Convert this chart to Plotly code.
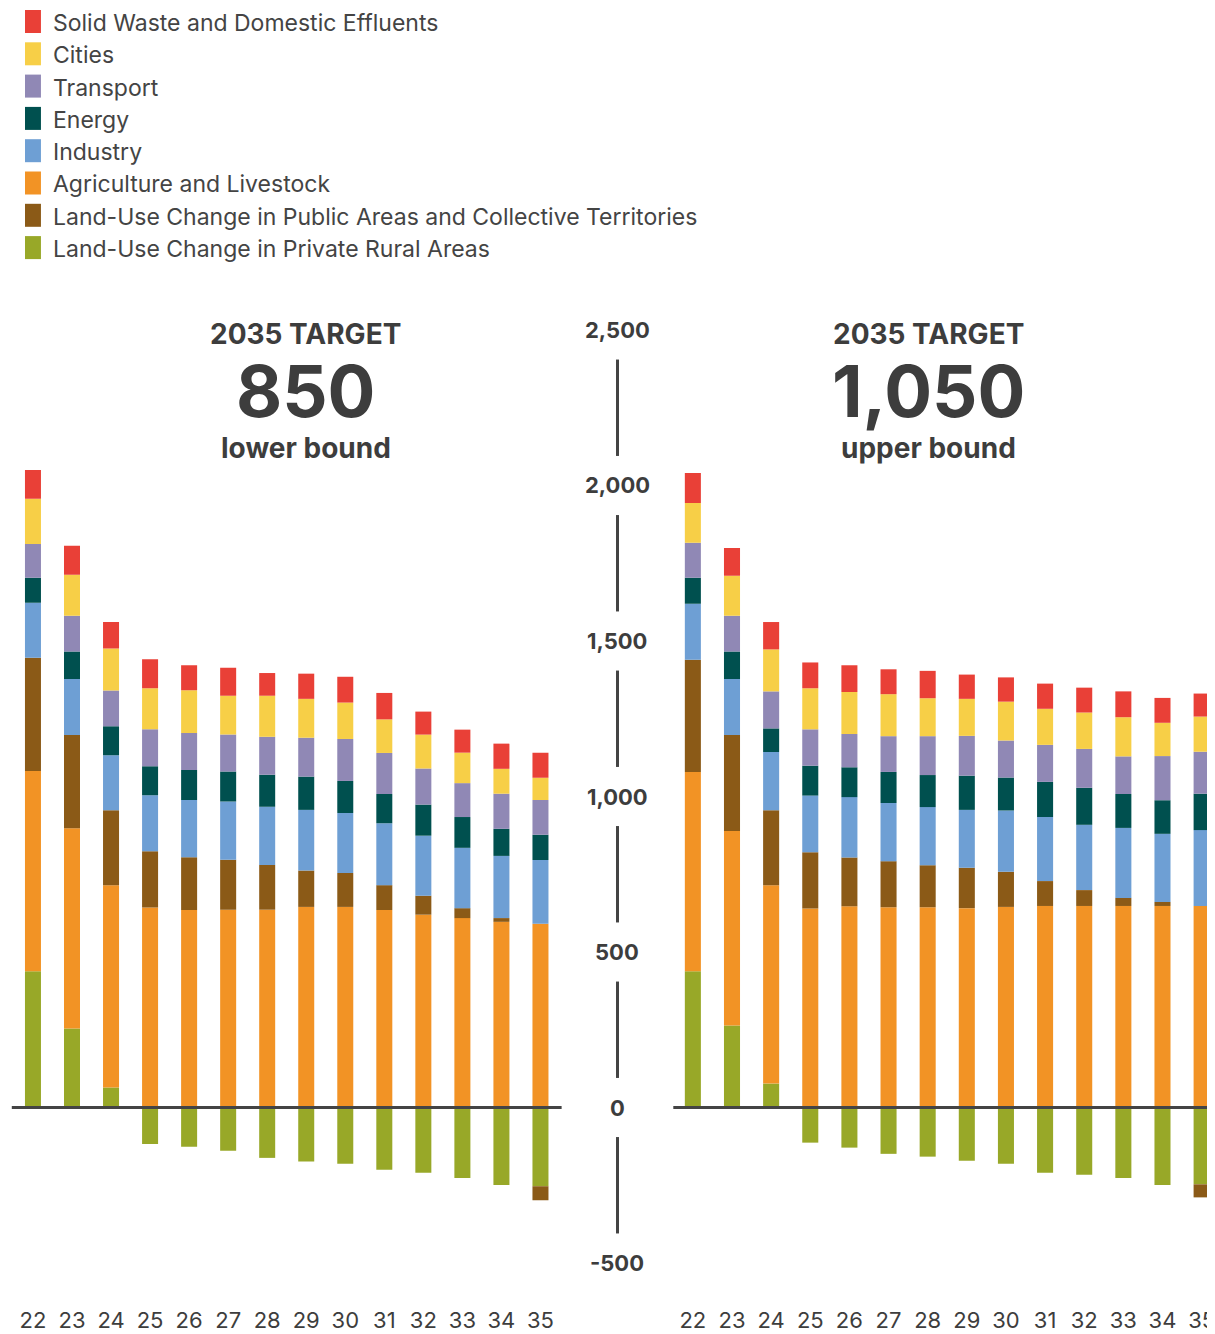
import plotly.graph_objects as go

# The page body adds an 8px margin; the figure is sized so that it fills the window.
OFF = 8
WIN_W, WIN_H = 1215, 1334
W, H = WIN_W - OFF, WIN_H - OFF

years = ["22", "23", "24", "25", "26", "27", "28", "29", "30", "31", "32", "33", "34", "35"]

series_names = [
    "Land-Use Change in Private Rural Areas",
    "Agriculture and Livestock",
    "Land-Use Change in Public Areas and Collective Territories",
    "Industry",
    "Energy",
    "Transport",
    "Cities",
    "Solid Waste and Domestic Effluents",
]
colors = {
    "Solid Waste and Domestic Effluents": "#E94037",
    "Cities": "#F7CF47",
    "Transport": "#9088B5",
    "Energy": "#00504F",
    "Industry": "#6E9FD4",
    "Agriculture and Livestock": "#F29325",
    "Land-Use Change in Public Areas and Collective Territories": "#8B5A17",
    "Land-Use Change in Private Rural Areas": "#98A828",
}
legend_order = [
    "Solid Waste and Domestic Effluents",
    "Cities",
    "Transport",
    "Energy",
    "Industry",
    "Agriculture and Livestock",
    "Land-Use Change in Public Areas and Collective Territories",
    "Land-Use Change in Private Rural Areas",
]

# Lower bound scenario (MtCO2e)
green_lo = [438, 254, 64, -117, -126, -139, -162, -174, -181, -200, -210, -227, -249, -253]
orange_lo = [644, 644, 651, 643, 635, 636, 636, 645, 645, 635, 620, 609, 597, 591]
brown_lo = [364, 300, 241, 181, 170, 161, 144, 117, 109, 80, 61, 32, 12, -45]
industry_lo = [177, 180, 177, 180, 184, 187, 187, 195, 193, 199, 193, 194, 200, 205]
energy_lo = [80, 88, 93, 93, 96, 96, 103, 107, 103, 94, 100, 99, 87, 81]
transport_lo = [109, 115, 115, 119, 119, 119, 122, 125, 135, 132, 116, 109, 113, 112]
cities_lo = [145, 132, 135, 132, 138, 125, 132, 125, 117, 108, 109, 98, 80, 71]
waste_lo = [93, 93, 85, 93, 80, 90, 73, 81, 83, 85, 74, 74, 81, 81]

# Upper bound scenario (MtCO2e)
green_hi = [438, 264, 77, -113, -129, -149, -158, -171, -181, -210, -216, -227, -249, -247]
orange_hi = [641, 625, 638, 640, 647, 644, 644, 641, 645, 648, 648, 648, 648, 648]
brown_hi = [361, 309, 241, 181, 157, 148, 135, 130, 113, 80, 51, 26, 13, -42]
industry_hi = [180, 180, 187, 182, 194, 187, 187, 186, 197, 206, 210, 225, 219, 244]
energy_hi = [83, 88, 76, 96, 96, 100, 103, 110, 106, 113, 119, 109, 108, 117]
transport_hi = [113, 115, 119, 117, 107, 115, 125, 128, 119, 119, 125, 121, 142, 135]
cities_hi = [128, 129, 135, 132, 135, 135, 122, 119, 125, 116, 117, 126, 107, 113]
waste_hi = [96, 89, 88, 83, 86, 80, 88, 78, 78, 81, 80, 83, 80, 74]

axis_ticks = [2500, 2000, 1500, 1000, 500, 0, -500]
axis_tick_text = ["2,500", "2,000", "1,500", "1,000", "500", "0", "-500"]

lo = [green_lo, orange_lo, brown_lo, industry_lo, energy_lo, transport_lo, cities_lo, waste_lo]
hi = [green_hi, orange_hi, brown_hi, industry_hi, energy_hi, transport_hi, cities_hi, waste_hi]

TXT = "#3d3d3d"
FONT = "Inter"

fig = go.Figure()
for name, vals in zip(series_names, lo):
    fig.add_trace(go.Bar(x=years, y=vals, name=name, marker=dict(color=colors[name], line=dict(width=0)),
                         width=0.41, xaxis="x", yaxis="y", showlegend=False))
for name, vals in zip(series_names, hi):
    fig.add_trace(go.Bar(x=years, y=vals, name=name, marker=dict(color=colors[name], line=dict(width=0)),
                         width=0.41, xaxis="x2", yaxis="y", showlegend=False))


# helpers: window pixel -> paper fraction
def px(x):
    return (x - OFF) / W


def py(y):
    return 1 - (y - OFF) / H


# vertical geometry (window px)
k = 0.311          # px per unit
Z = 1107.5         # px of zero
T, B = 310, 1305   # plot top / bottom
yr = [-(B - Z) / k, (Z - T) / k]
ydom = [py(B), py(T)]

xaxis_common = dict(showgrid=False, zeroline=False, showline=False, ticks="",
                    tickfont=dict(family=FONT, size=22, color=TXT), type="category",
                    fixedrange=True)

fig.update_layout(
    width=W, height=H,
    margin=dict(l=0, r=0, t=0, b=0),
    paper_bgcolor="white", plot_bgcolor="white",
    barmode="relative",
    font=dict(family=FONT, color=TXT),
    xaxis=dict(domain=[px(13.45), px(560.9)], range=[-0.5, 13.5], anchor="y", **xaxis_common),
    xaxis2=dict(domain=[px(674.4), 1.0], range=[-0.5, (WIN_W - 674.4) / 39.2 - 0.5], anchor="y", **xaxis_common),
    yaxis=dict(domain=ydom, range=yr, visible=False, fixedrange=True),
)

shapes = []
annotations = []

# zero lines
shapes.append(dict(type="line", xref="x domain", yref="y", x0=-0.003, x1=1.003,
                   y0=0, y1=0, line=dict(color="#444444", width=3), layer="above"))
shapes.append(dict(type="line", xref="x2 domain", yref="y", x0=0, x1=1,
                   y0=0, y1=0, line=dict(color="#444444", width=3), layer="above"))

# central axis
cx = 618.5
for v, t in zip(axis_ticks, axis_tick_text):
    annotations.append(dict(x=px(cx), y=v, xref="paper", yref="y", text=t, showarrow=False,
                            xanchor="center", yanchor="middle",
                            font=dict(family=FONT, size=22, color=TXT, weight="bold")))
for a, b in zip(axis_ticks[1:], axis_ticks[:-1]):
    shapes.append(dict(type="line", xref="paper", yref="y", x0=px(cx), x1=px(cx), y0=a + 95, y1=b - 95,
                       line=dict(color="#444444", width=3)))

# titles
for x, big, sub in [(306, "850", "lower bound"), (930, "1,050", "upper bound")]:
    annotations.append(dict(x=px(x), y=py(334), xref="paper", yref="paper", text="2035 TARGET", showarrow=False,
                            xanchor="center", yanchor="middle", font=dict(family=FONT, size=28, color=TXT, weight="bold")))
    annotations.append(dict(x=px(x), y=py(391), xref="paper", yref="paper", text=big, showarrow=False,
                            xanchor="center", yanchor="middle", font=dict(family=FONT, size=71, color=TXT, weight="bold")))
    annotations.append(dict(x=px(x), y=py(448), xref="paper", yref="paper", text=sub, showarrow=False,
                            xanchor="center", yanchor="middle", font=dict(family=FONT, size=28, color=TXT, weight="bold")))

# legend
for i, name in enumerate(legend_order):
    cy = 23 + 32.3 * i
    shapes.append(dict(type="rect", xref="paper", yref="paper", x0=px(25), x1=px(41), y0=py(cy - 13), y1=py(cy + 10),
                       fillcolor=colors[name], line=dict(width=0)))
    annotations.append(dict(x=px(51), y=py(cy), xref="paper", yref="paper", text=name, showarrow=False,
                            xanchor="left", yanchor="middle", font=dict(family=FONT, size=23, color="#444444")))

fig.update_layout(shapes=shapes, annotations=annotations)

fig.write_html("out.html")
